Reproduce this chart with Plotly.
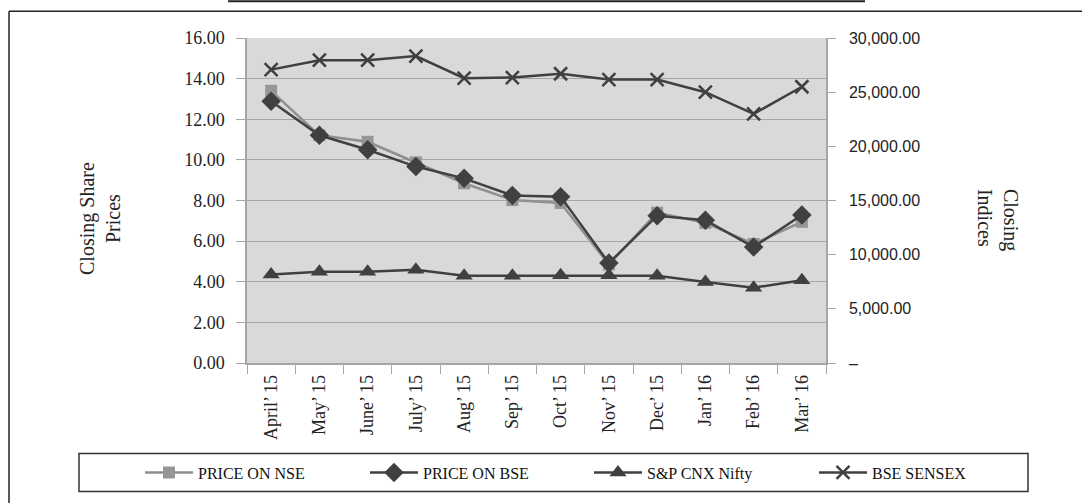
import plotly.graph_objects as go

months = ["April\u2019 15", "May\u2019 15", "June\u2019 15", "July\u2019 15", "Aug\u2019 15", "Sep\u2019 15",
          "Oct\u2019 15", "Nov\u2019 15", "Dec\u2019 15", "Jan\u2019 16", "Feb\u2019 16", "Mar\u2019 16"]
price_nse = [13.40, 11.21, 10.89, 9.88, 8.85, 8.02, 7.88, 4.85, 7.40, 6.90, 5.86, 6.95]
price_bse = [12.89, 11.21, 10.50, 9.67, 9.09, 8.25, 8.19, 4.92, 7.25, 7.03, 5.71, 7.29]
nifty = [8180, 8420, 8420, 8600, 8050, 8050, 8110, 8110, 8050, 7480, 6950, 7640]
sensex = [27080, 27950, 27950, 28330, 26290, 26350, 26700, 26160, 26160, 25000, 22990, 25500]

left_ticks = [0, 2, 4, 6, 8, 10, 12, 14, 16]
right_ticks = [0, 5000, 10000, 15000, 20000, 25000, 30000]
right_labels = ["\u2013", "5,000.00", "10,000.00", "15,000.00", "20,000.00", "25,000.00", "30,000.00"]

W, H = 1082, 503
L, R, T, B = 247, 826, 37.7, 363.3
def px(x):
    return (x - L) / (R - L)
def py(y):
    return (B - y) / (B - T)

dark = "#404040"
serif = "Liberation Serif"

fig = go.Figure()
fig.add_trace(go.Scatter(x=months, y=price_nse, name="PRICE ON NSE", mode="lines+markers",
                         line=dict(color="#8f8f8f", width=2.5),
                         marker=dict(symbol="square", size=12, color="#969696")))
fig.add_trace(go.Scatter(x=months, y=price_bse, name="PRICE ON BSE", mode="lines+markers",
                         line=dict(color=dark, width=2.5),
                         marker=dict(symbol="diamond", size=15, color=dark)))
fig.add_trace(go.Scatter(x=months, y=nifty, name="S&P CNX Nifty", mode="lines+markers", yaxis="y2",
                         legend="legend2",
                         line=dict(color=dark, width=2.5),
                         marker=dict(symbol="triangle-up", size=15, color=dark)))
fig.add_trace(go.Scatter(x=months, y=sensex, name="BSE SENSEX", mode="lines+markers", yaxis="y2",
                         legend="legend2",
                         line=dict(color=dark, width=2.5),
                         marker=dict(symbol="x-thin", size=13, color=dark,
                                     line=dict(color=dark, width=2.5))))

shapes = [
    dict(type="line", xref="paper", yref="paper", x0=px(9), x1=px(1090), y0=py(11), y1=py(11),
         line=dict(color="#222222", width=1.5)),
    dict(type="line", xref="paper", yref="paper", x0=px(9), x1=px(9), y0=py(11), y1=py(510),
         line=dict(color="#222222", width=1.5)),
    dict(type="line", xref="paper", yref="paper", x0=px(228), x1=px(865), y0=py(0.8), y1=py(0.8),
         line=dict(color="#222222", width=2)),
    dict(type="rect", xref="paper", yref="paper", x0=px(79), x1=px(1028), y0=py(454), y1=py(492),
         line=dict(color="#333333", width=1.5), fillcolor="rgba(0,0,0,0)"),
]

annotations = [
    dict(text="Closing Share<br>Prices", xref="paper", yref="paper", x=px(100), y=py(219),
         xanchor="center", yanchor="middle", textangle=-90, showarrow=False,
         font=dict(family=serif, size=20, color="#222222")),
    dict(text="Closing<br>Indices", xref="paper", yref="paper", x=px(998), y=py(220),
         xanchor="center", yanchor="middle", textangle=90, showarrow=False, align="left",
         font=dict(family=serif, size=20, color="#222222")),
]

legend_common = dict(orientation="h", yanchor="middle", xanchor="left", y=py(473),
                     entrywidth=162, entrywidthmode="pixels", bgcolor="rgba(0,0,0,0)",
                     font=dict(family=serif, size=16, color="#111111"), itemwidth=48)

fig.update_layout(
    width=W, height=H,
    margin=dict(l=L, r=W - R, t=T, b=H - B),
    paper_bgcolor="white", plot_bgcolor="#d9d9d9",
    showlegend=True,
    legend=dict(x=px(140), **legend_common),
    legend2=dict(x=px(589), **legend_common),
    xaxis=dict(type="category", tickson="boundaries", ticks="outside", ticklen=9, tickcolor="#a6a6a6",
               showline=True, linecolor="#a6a6a6", linewidth=1.5, showgrid=False, tickangle=-90,
               tickfont=dict(family=serif, size=18, color="#222222"), ticklabelstandoff=3,
               range=[-0.5, 11.5]),
    yaxis=dict(range=[0, 16], tickvals=left_ticks, tickformat=".2f", ticks="outside", ticklen=9,
               tickcolor="#a6a6a6", showline=True, linecolor="#a6a6a6", linewidth=1.5,
               gridcolor="#a6a6a6", gridwidth=1.2, zeroline=False,
               tickfont=dict(family=serif, size=18, color="#222222"), ticklabelstandoff=8),
    yaxis2=dict(range=[0, 30000], overlaying="y", side="right", tickvals=right_ticks, ticktext=right_labels,
                ticks="outside", ticklen=8, tickcolor="#a6a6a6", showline=True, linecolor="#a6a6a6",
                linewidth=1.5, showgrid=False, zeroline=False,
                tickfont=dict(family="Liberation Sans", size=16, color="#222222"), ticklabelstandoff=10),
    shapes=shapes, annotations=annotations,
)

fig.write_html("out.html", config={"displayModeBar": False},
               post_script="document.body.style.margin='0';document.body.style.overflow='hidden';")
